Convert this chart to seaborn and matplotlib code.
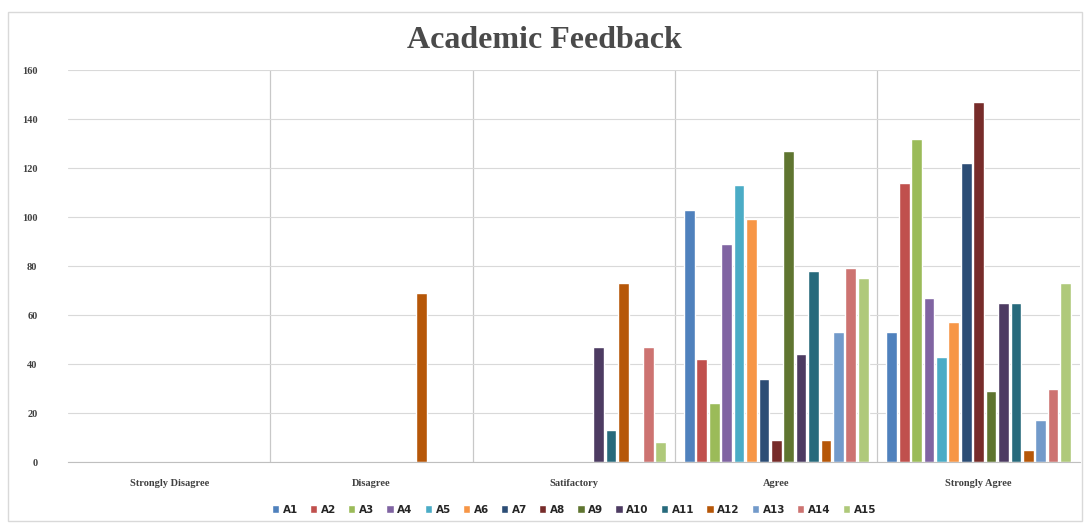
import pandas as pd
import seaborn as sns
import matplotlib.pyplot as plt
from matplotlib.patches import Rectangle

categories = ["Strongly Disagree", "Disagree", "Satifactory", "Agree", "Strongly Agree"]
items = ["A1", "A2", "A3", "A4", "A5", "A6", "A7", "A8", "A9", "A10",
         "A11", "A12", "A13", "A14", "A15"]

strongly_disagree = [0, 0, 0, 0, 0, 0, 0, 0, 0, 0, 0, 0, 0, 0, 0]
disagree = [0, 0, 0, 0, 0, 0, 0, 0, 0, 0, 0, 69, 0, 0, 0]
satifactory = [0, 0, 0, 0, 0, 0, 0, 0, 0, 47, 13, 73, 0, 47, 8]
agree = [103, 42, 24, 89, 113, 99, 34, 9, 127, 44, 78, 9, 53, 79, 75]
strongly_agree = [53, 114, 132, 67, 43, 57, 122, 147, 29, 65, 65, 5, 17, 30, 73]

colors = ["#4F81BD", "#C0504D", "#9BBB59", "#8064A2", "#4BACC6", "#F79646",
          "#2C4D75", "#772C2A", "#5F7530", "#4D3B62", "#276A7C", "#B65708",
          "#729ACA", "#CD7371", "#AFC97A"]

rows = []
for cat, vals in zip(categories, [strongly_disagree, disagree, satifactory,
                                  agree, strongly_agree]):
    for item, v in zip(items, vals):
        rows.append({"Response": cat, "Item": item, "Count": v})
df = pd.DataFrame(rows)

sns.set_style("white")
fig = plt.figure(figsize=(10.88, 5.23), dpi=100)
ax = fig.add_axes([0.0625, 0.1166, 0.93, 0.7495])

sns.barplot(data=df, x="Response", y="Count", hue="Item", order=categories,
            hue_order=items, palette=colors, width=0.92, gap=0.14,
            saturation=1, ax=ax, legend=True)

ax.set_ylim(0, 160)
ax.set_yticks(range(0, 161, 20))
ax.set_xlim(-0.5, 4.5)
ax.set_xlabel("")
ax.set_ylabel("")
ax.yaxis.grid(True, color="#d9d9d9", linewidth=0.8)
ax.set_axisbelow(True)
for xb in [0.5, 1.5, 2.5, 3.5]:
    ax.axvline(xb, color="#c8c8c8", linewidth=0.9, zorder=0)
for s in ["top", "right", "left"]:
    ax.spines[s].set_visible(False)
ax.spines["bottom"].set_color("#bfbfbf")
ax.tick_params(axis="both", length=0, labelsize=7.5, colors="#404040")
for lab in ax.get_xticklabels() + ax.get_yticklabels():
    lab.set_fontweight("bold")
    lab.set_family("Liberation Serif")
ax.tick_params(axis="x", pad=12)
ax.tick_params(axis="y", pad=22)

fig.text(0.5, 0.922, "Academic Feedback", ha="center", va="center",
         fontsize=23, fontweight="bold", family="Liberation Serif", color="#4a4a4a")

ax.legend(loc="upper center", bbox_to_anchor=(0.5, -0.085), ncol=15,
          frameon=False, handlelength=0.7, handleheight=0.7,
          handletextpad=0.35, columnspacing=1.15,
          prop={"weight": "bold", "size": 7.5, "family": "DejaVu Sans"})

fig.patches.append(Rectangle((8 / 1088, 0.004), 1074 / 1088, 1 - 12 / 523 - 0.004,
                             transform=fig.transFigure, fill=False,
                             edgecolor="#d9d9d9", linewidth=1))

fig.savefig("out.png", dpi=100)
